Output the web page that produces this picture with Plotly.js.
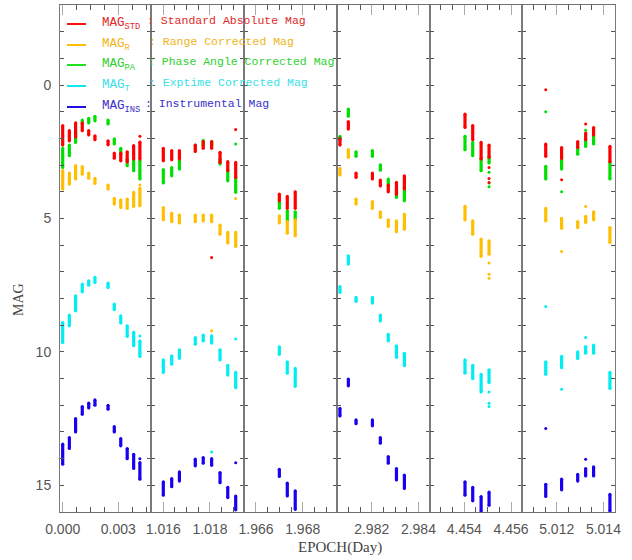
<!DOCTYPE html>
<html><head><meta charset="utf-8">
<script src="https://cdn.plot.ly/plotly-3.0.1.min.js"></script>
<style>html,body{margin:0;padding:0;background:#fff}</style>
</head><body><div id="chart" style="width:632px;height:560px"></div>
<script>
// Observation epochs (days), one per column of points, panel by panel
const EPOCH = [
  0.00000,0.00030,0.00058,0.00088,0.00117,0.00145,0.00204,0.00232,0.00261,0.00290,0.00319,0.00347,
  1.01600,1.01636,1.01669,1.01737,1.01771,1.01807,1.01843,1.01876,1.01910,
  1.96700,1.96734,1.96768,
  2.98064,2.98100,2.98133,2.98203,2.98237,2.98271,2.98306,2.98340,
  4.45403,4.45436,4.45472,4.45506,
  5.01153,5.01221,5.01290,5.01324,5.01358,5.01428];

// Each column spans a range of magnitudes (lo..hi)
const STD_LO = [1.52,1.71,1.42,1.42,1.71,1.90,2.09,2.55,2.55,2.50,2.27,2.14, 2.37,2.46,2.46,2.25,2.12,2.12,2.52,2.87,2.90, 4.09,4.17,4.00, 2.00,1.37,3.30,3.30,3.56,3.75,3.65,3.40, 1.09,1.52,2.15,2.25, 2.21,2.34,2.12,1.80,1.59,2.30];
const STD_HI = [2.25,2.09,1.95,1.71,1.87,2.05,2.24,2.74,2.84,2.88,2.77,2.77, 2.84,2.80,2.77,2.49,2.37,2.37,2.90,3.21,3.46, 4.34,4.62,4.62, 2.25,1.65,3.46,3.52,3.78,4.00,4.09,3.90, 1.59,2.05,2.77,2.71, 2.67,2.75,2.34,2.05,1.87,2.87];
const STD_OUT_EPOCH = [0.00347,1.01910,1.01807,4.45506,4.45506,4.45506,5.01153,5.01221,5.01324];
const STD_OUT_MAG   = [1.92,1.67,6.46,3.09,3.50,3.65,0.18,3.55,1.46];

const R_LO = [3.21,3.30,3.02,3.06,3.30,3.50,3.75,4.25,4.30,4.27,4.02,3.87, 4.59,4.80,4.87,4.87,4.87,4.87,5.25,5.52,5.52, 4.90,5.12,5.05, 3.12,2.42,4.27,4.37,4.75,5.05,5.09,4.84, 4.55,5.09,5.77,5.84, 4.62,5.00,5.12,4.92,4.75,5.34];
const R_HI = [3.90,3.71,3.52,3.34,3.49,3.69,3.90,4.46,4.59,4.62,4.55,4.52, 5.05,5.12,5.17,5.12,5.09,5.12,5.59,5.92,6.05, 5.17,5.55,5.65, 3.37,2.71,4.46,4.62,4.96,5.30,5.50,5.40, 5.05,5.59,6.42,6.34, 5.09,5.37,5.34,5.15,5.05,5.90];
const R_OUT_EPOCH = [0.00347,1.01910,1.01807,4.45506,4.45506,4.45506,5.01221,5.01324];
const R_OUT_MAG   = [3.75,4.25,9.21,6.67,7.09,7.24,6.24,4.55];

const PA_LO = [2.37,2.25,1.77,1.31,1.25,1.17,1.31,2.02,2.37,2.77,2.80,2.84, 3.17,3.09,2.84,2.25,2.08,2.12,2.77,3.21,3.46, 4.37,4.71,4.75, 1.92,0.90,2.50,2.46,2.99,3.52,3.90,3.84, 1.92,2.15,2.77,2.71, 3.05,2.77,2.34,2.05,1.90,2.90];
const PA_HI = [3.09,2.65,2.15,1.46,1.42,1.34,1.46,2.21,2.59,3.02,3.21,3.52, 3.67,3.40,3.15,2.40,2.27,2.27,2.96,3.59,4.02, 4.62,5.09,5.02, 2.05,1.17,2.67,2.67,3.19,3.78,4.21,4.34, 2.42,2.65,3.21,2.92, 3.52,3.15,2.59,2.30,2.21,3.52];
const PA_OUT_EPOCH = [1.01910,4.45506,4.45506,4.45506,5.01153,5.01221,5.01324];
const PA_OUT_MAG   = [2.21,3.27,3.67,3.81,1.00,4.00,1.69];

const T_LO = [8.90,8.62,7.90,7.46,7.34,7.21,7.42,8.21,8.65,9.02,9.27,9.59, 10.30,10.15,9.92,9.46,9.37,9.40,9.92,10.50,10.77, 9.81,10.37,10.62, 7.55,6.40,7.96,7.96,8.62,9.34,9.77,10.05, 10.30,10.50,10.84,10.67, 10.37,10.17,10.00,9.80,9.75,10.77];
const T_HI = [9.65,9.02,8.46,7.75,7.50,7.40,7.59,8.42,8.92,9.42,9.77,10.17, 10.77,10.46,10.24,9.71,9.59,9.67,10.30,10.87,11.34, 10.09,10.80,11.29, 7.77,6.71,8.11,8.17,8.84,9.59,10.21,10.52, 10.80,11.00,11.50,11.15, 10.84,10.59,10.25,10.05,10.05,11.37];
const T_OUT_EPOCH = [0.00347,1.01910,1.01807,4.45506,4.45506,4.45506,5.01153,5.01221,5.01324];
const T_OUT_MAG   = [9.40,9.52,13.75,11.50,11.92,12.05,8.30,11.40,9.46];

const INS_LO = [13.46,13.21,12.50,12.05,11.92,11.80,12.00,12.80,13.25,13.62,13.84,14.15, 14.87,14.75,14.50,14.02,13.96,14.00,14.52,15.08,15.40, 14.40,14.92,15.21, 12.12,11.02,12.55,12.55,13.21,13.92,14.37,14.62, 14.87,15.08,15.42,15.25, 14.96,14.77,14.59,14.37,14.31,15.34];
const INS_HI = [14.21,13.62,13.00,12.34,12.10,12.00,12.15,13.00,13.52,14.00,14.37,14.77, 15.37,15.05,14.84,14.27,14.17,14.25,14.90,15.46,15.92, 14.67,15.40,15.90, 12.40,11.27,12.69,12.77,13.42,14.17,14.80,15.12, 15.37,15.58,15.97,15.75, 15.42,15.17,14.84,14.65,14.65,15.96];
const INS_OUT_EPOCH = [0.00347,1.01910,5.01153,5.01324];
const INS_OUT_MAG   = [14.00,14.15,12.87,14.02];

// Axis tick labels per panel
const TICK_VALS = [[0,0.0025],[1.016,1.018],[1.966,1.968],[2.982,2.984],[4.454,4.456],[5.012,5.014]];
const TICK_TEXT = [['0.000','0.003'],['1.016','1.018'],['1.966','1.968'],['2.982','2.984'],['4.454','4.456'],['5.012','5.014']];
const MINOR_DT  = [0.000625,0.0005,0.0005,0.0005,0.0005,0.0005];
const X_RANGES  = [[-0.000121,0.003970],[1.015473,1.019456],[1.965486,1.969469],[2.980514,2.984497],[4.452531,4.456458],[5.010501,5.014497]];
const DOMAINS   = [[0,0.16396],[0.16396,0.33153],[0.33153,0.4991],[0.4991,0.66667],[0.66667,0.83189],[0.83189,1]];

const LEG_NAMES = ['MAG<sub>STD</sub>','MAG<sub>R</sub>','MAG<sub>PA</sub>','MAG<sub>T</sub>','MAG<sub>INS</sub>'];
const LEG_DESC  = [': Standard Absolute Mag',': Range Corrected Mag',': Phase Angle Corrected Mag',': Exptime Corrected Mag',': Instrumental Mag'];

const COL = {STD:'#ff0000', R:'#ffbf00', PA:'#00e000', T:'#00eef2', INS:'#1800f0'};
const LEG_LINE = ['#ff1010','#ffbf00','#20e020','#10e8f0','#2010e0'];
const LEG_TEXT = ['#e02828','#f0b418','#30d030','#38e0e8','#3a30c8'];

function panelOf(e){ for(let p=0;p<6;p++){ if(e>=X_RANGES[p][0] && e<=X_RANGES[p][1]) return p; } return -1; }
const series = [
  ['INS',INS_LO,INS_HI,INS_OUT_EPOCH,INS_OUT_MAG],
  ['T',T_LO,T_HI,T_OUT_EPOCH,T_OUT_MAG],
  ['PA',PA_LO,PA_HI,PA_OUT_EPOCH,PA_OUT_MAG],
  ['R',R_LO,R_HI,R_OUT_EPOCH,R_OUT_MAG],
  ['STD',STD_LO,STD_HI,STD_OUT_EPOCH,STD_OUT_MAG]];
const traces = [];
series.forEach(([name,lo,hi,oe,om])=>{
  const c = COL[name];
  for(let p=0;p<6;p++){
    const xa = p? 'x'+(p+1):'x', ya = p? 'y'+(p+1):'y';
    const x=[],y=[];
    EPOCH.forEach((e,i)=>{ if(panelOf(e)===p){ x.push(e,e,null); y.push(lo[i],hi[i],null); } });
    traces.push({type:'scatter',mode:'lines+markers',x,y,xaxis:xa,yaxis:ya,
      line:{color:c,width:3.2},marker:{color:c,size:3.2,line:{width:0}},hoverinfo:'skip',showlegend:false});
    const ox=[],oy=[];
    oe.forEach((e,i)=>{ if(panelOf(e)===p){ ox.push(e); oy.push(om[i]); } });
    if(ox.length) traces.push({type:'scatter',mode:'markers',x:ox,y:oy,xaxis:xa,yaxis:ya,
      marker:{color:c,size:3,line:{width:0}},hoverinfo:'skip',showlegend:false});
  }
});

const layout = {width:632,height:560,margin:{l:60,r:17,t:5,b:48},paper_bgcolor:'#fff',plot_bgcolor:'#fff',
  showlegend:false,shapes:[],annotations:[]};
for(let p=0;p<6;p++){
  const s = p? String(p+1):'';
  layout['xaxis'+s] = {domain:DOMAINS[p],range:X_RANGES[p],anchor:'y'+s,
    tickmode:'array',tickvals:TICK_VALS[p],ticktext:TICK_TEXT[p],
    ticks:'inside',ticklen:10,tickcolor:'#aaaaaa',tickwidth:1,
    minor:{tickmode:'linear',tick0:TICK_VALS[p][0],dtick:MINOR_DT[p],ticks:'inside',ticklen:5,tickcolor:'#555',tickwidth:1,showgrid:false},
    showline:true,linecolor:'#707070',linewidth:1,mirror:'allticks',showgrid:false,zeroline:false,
    tickfont:{family:'Liberation Sans, Arial, sans-serif',size:14,color:'#555'},ticklabelstandoff:4};
  layout['yaxis'+s] = {domain:[0,1],range:[16,-3],anchor:'x'+s,
    tickmode:'array',tickvals:[0,5,10,15],ticktext:['0','5','10','15'],showticklabels:p===0,
    ticks:'inside',ticklen:4,tickcolor:'#555',tickwidth:1,
    minor:{tickmode:'linear',tick0:0,dtick:1,ticks:'inside',ticklen:4,tickcolor:'#555',tickwidth:1,showgrid:false},
    showline:true,linecolor:'#7a7a7a',linewidth:1,mirror:'allticks',showgrid:false,zeroline:false,
    tickfont:{family:'Liberation Sans, Arial, sans-serif',size:14,color:'#555'},ticklabelstandoff:5};
}
const rowsY = [24,45,65,86,107];
const descX = [145,147,146,147,143];
rowsY.forEach((py,i)=>{
  const yp = (512-py)/507;
  layout.shapes.push({type:'line',xref:'paper',yref:'paper',x0:(67-60)/555,x1:(86-60)/555,y0:yp,y1:yp,line:{color:LEG_LINE[i],width:2}});
  layout.annotations.push({xref:'paper',yref:'paper',x:(100-60)/555,y:yp,xanchor:'left',yanchor:'middle',showarrow:false,
    text:LEG_NAMES[i],font:{family:'Liberation Mono, monospace',size:12.5,color:LEG_TEXT[i]}});
  layout.annotations.push({xref:'paper',yref:'paper',x:(descX[i]-60)/555,y:yp+0.006,xanchor:'left',yanchor:'middle',showarrow:false,
    text:LEG_DESC[i],font:{family:'Liberation Mono, monospace',size:11.5,color:LEG_TEXT[i]}});
});
layout.annotations.push({xref:'paper',yref:'paper',x:(18-60)/555,y:(512-300)/507,xanchor:'center',yanchor:'middle',showarrow:false,
  textangle:-90,text:'MAG',font:{family:'Liberation Serif, serif',size:14,color:'#444'}});
layout.annotations.push({xref:'paper',yref:'paper',x:(340-60)/555,y:(512-547)/507,xanchor:'center',yanchor:'middle',showarrow:false,
  text:'EPOCH(Day)',font:{family:'Liberation Serif, serif',size:15,color:'#444'}});

Plotly.newPlot('chart',traces,layout,{displayModeBar:false,staticPlot:true});
</script></body></html>
